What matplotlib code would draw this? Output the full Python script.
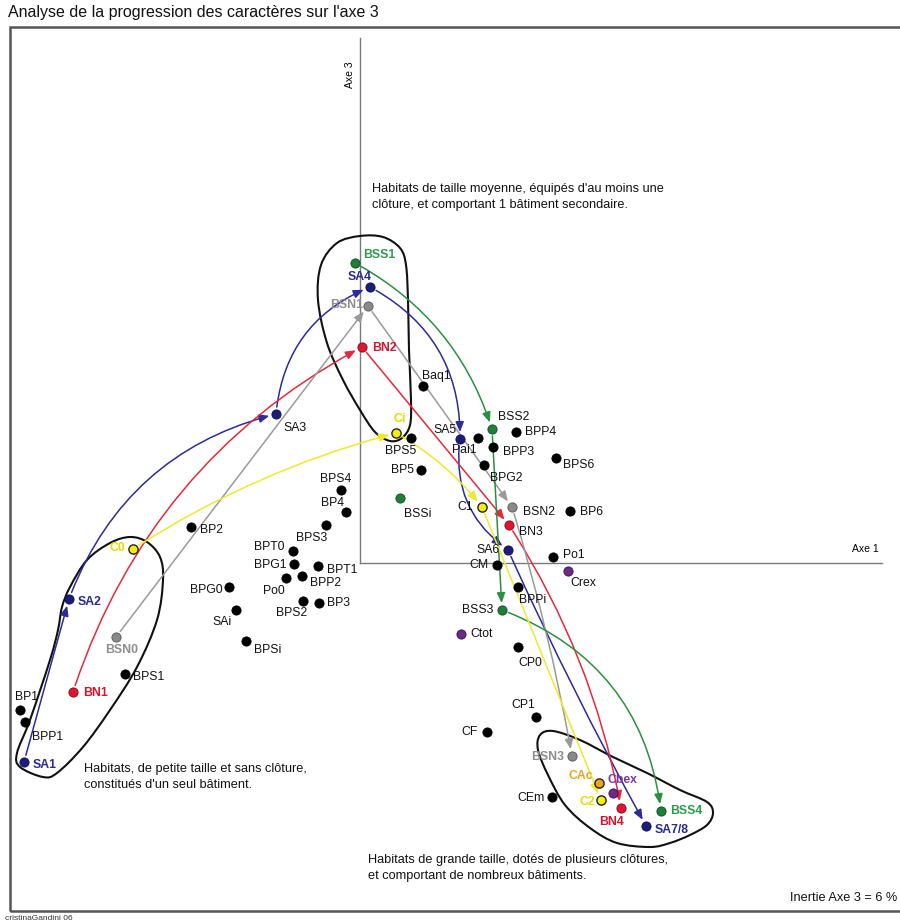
import numpy as np
import matplotlib
matplotlib.use("Agg")
import matplotlib.pyplot as plt
from matplotlib.path import Path
from matplotlib.patches import PathPatch, Rectangle

plt.rcParams['font.family'] = ['Liberation Sans', 'DejaVu Sans']

#
# Data (coordinates on the factor plane, Axe 1 / Axe 3)
#

# plain modalities (black dots)
black_names = ['BP1', 'BPP1', 'BPS1', 'BP2', 'BPS4', 'BP4', 'BPS3', 'BPT0', 'BPG1', 'BPT1',
               'Po0', 'BPP2', 'BPG0', 'BP3', 'BPS2', 'SAi', 'BPSi', 'Baq1', 'BPS5', 'BP5',
               'Pai1', 'BPP4', 'BPP3', 'BPS6', 'BPG2', 'BP6', 'Po1', 'CM', 'BPPi', 'CP0',
               'CP1', 'CF', 'CEm']
black_x = [-3.40, -3.35, -2.35, -1.69, -0.19, -0.14, -0.34, -0.67, -0.66, -0.42,
           -0.74, -0.58, -1.31, -0.41, -0.57, -1.24, -1.14, 0.63, 0.51, 0.61,
           1.18, 1.56, 1.33, 1.96, 1.24, 2.10, 1.93, 1.37, 1.58, 1.58,
           1.76, 1.27, 1.92]
black_y = [-1.47, -1.59, -1.11, 0.36, 0.73, 0.51, 0.38, 0.12, -0.01, -0.03,
           -0.15, -0.13, -0.24, -0.40, -0.38, -0.47, -0.78, 1.77, 1.25, 0.93,
           1.25, 1.31, 1.16, 1.05, 0.98, 0.52, 0.06, -0.02, -0.24, -0.84,
           -1.54, -1.69, -2.34]

# progressions
sa_names = ['SA1', 'SA2', 'SA3', 'SA4', 'SA5', 'SA6', 'SA7/8']
sa_x = [-3.36, -2.91, -0.84, 0.10, 1.00, 1.48, 2.86]
sa_y = [-1.99, -0.36, 1.49, 2.76, 1.24, 0.13, -2.63]
sa_rad = [0.0, -0.26, -0.3, -0.3, 0.3, 0.02]

bn_names = ['BN1', 'BN2', 'BN3', 'BN4']
bn_x = [-2.87, 0.02, 1.49, 2.61]
bn_y = [-1.29, 2.16, 0.38, -2.45]
bn_rad = [-0.2, 0.0, -0.1]

bsn_names = ['BSN0', 'BSN1', 'BSN2', 'BSN3']
bsn_x = [-2.44, 0.08, 1.52, 2.12]
bsn_y = [-0.74, 2.57, 0.56, -1.93]
bsn_rad = [0.0, 0.0, -0.03]

bss_names = ['BSS1', 'BSS2', 'BSS3', 'BSS4']
bss_x = [-0.05, 1.32, 1.42, 3.01]
bss_y = [3.00, 1.34, -0.47, -2.48]
bss_rad = [-0.2, 0.0, -0.3]
bssi_x, bssi_y = 0.40, 0.65

c_names = ['C0', 'Ci', 'C1', 'C2']
c_x = [-2.27, 0.36, 1.22, 2.41]
c_y = [0.14, 1.30, 0.56, -2.37]
c_rad = [-0.08, -0.1, 0.0]

cac_x, cac_y = 2.39, -2.20
purple_names = ['Crex', 'Ctot', 'Cbex']
purple_x = [2.08, 1.01, 2.53]
purple_y = [-0.08, -0.71, -2.30]

# hand drawn groupings (outline points)
blob_small = [(-3.17, -2.14), (-3.40, -2.04), (-3.43, -1.90), (-3.30, -1.57), (-3.10, -0.97),
              (-3.02, -0.67), (-2.98, -0.44), (-2.90, -0.24), (-2.73, 0.03), (-2.50, 0.20),
              (-2.30, 0.26), (-2.13, 0.21), (-2.00, 0.06), (-1.97, -0.17), (-2.03, -0.57),
              (-2.23, -1.04), (-2.50, -1.47), (-2.77, -1.84), (-3.03, -2.10)]
blob_mid = [(-0.23, 3.20), (0.00, 3.27), (0.23, 3.26), (0.40, 3.15), (0.46, 2.98),
            (0.48, 2.63), (0.49, 2.13), (0.51, 1.63), (0.50, 1.38), (0.42, 1.25),
            (0.30, 1.22), (0.15, 1.31), (0.00, 1.53), (-0.17, 1.83), (-0.33, 2.20),
            (-0.42, 2.63), (-0.39, 2.98)]
blob_big = [(1.80, -1.72), (1.93, -1.68), (2.20, -1.77), (2.53, -1.94), (2.87, -2.10),
            (3.20, -2.27), (3.47, -2.39), (3.53, -2.50), (3.47, -2.62), (3.30, -2.72),
            (3.10, -2.80), (2.90, -2.84), (2.57, -2.80), (2.30, -2.65), (2.05, -2.42),
            (1.88, -2.12), (1.78, -1.87)]

#
# Styles
#

BLUE, BLUE_L = '#1c1c7c', '#2a2a8e'
RED, RED_L = '#e3142e', '#d8142c'
GRAY, GRAY_L = '#8a8a8a', '#8e8e8e'
GREEN, GREEN_L = '#1f7f3a', '#2e9a4e'
YELLOW, YELLOW_L = '#f2ee10', '#e2dc00'
ORANGE = '#f2a31c'
PURPLE, PURPLE_L = '#6b2a85', '#7a3a9a'

# label offsets in pixels (dx, dy downwards, alignment)
label_pos = {
    'BP1': (7, -13, 'center'), 'BPP1': (7, 15, 'left'), 'BPS1': (8, 3, 'left'),
    'BP2': (9, 3, 'left'), 'BPS4': (-5, -11, 'center'), 'BP4': (-13, -9, 'center'),
    'BPS3': (-14, 13, 'center'), 'BPT0': (-8, -4, 'right'), 'BPG1': (-7, 1, 'right'),
    'BPT1': (9, 4, 'left'), 'Po0': (-12, 13, 'center'), 'BPP2': (8, 7, 'left'),
    'BPG0': (-6, 3, 'right'), 'BP3': (8, 0, 'left'), 'BPS2': (-11, 12, 'center'),
    'SAi': (-4, 12, 'right'), 'BPSi': (8, 9, 'left'), 'Baq1': (-1, -10, 'left'),
    'BPS5': (-10, 13, 'center'), 'BP5': (-7, 0, 'right'), 'Pai1': (-14, 12, 'center'),
    'BPP4': (9, 0, 'left'), 'BPP3': (10, 5, 'left'), 'BPS6': (7, 7, 'left'),
    'BPG2': (6, 13, 'left'), 'BP6': (10, 1, 'left'), 'Po1': (10, -2, 'left'),
    'CM': (-8, 0, 'right'), 'BPPi': (1, 13, 'left'), 'CP0': (0, 16, 'left'),
    'CP1': (-1, -12, 'right'), 'CF': (-9, 0, 'right'), 'CEm': (-7, 1, 'right'),
    'SA1': (9, 3, 'left'), 'SA2': (9, 3, 'left'), 'SA3': (7, 14, 'left'),
    'SA4': (-10, -10, 'center'), 'SA5': (-3, -9, 'right'), 'SA6': (-8, 0, 'right'),
    'SA7/8': (9, 4, 'left'),
    'BN1': (10, 1, 'left'), 'BN2': (10, 1, 'left'), 'BN3': (10, 7, 'left'),
    'BN4': (-10, 14, 'center'),
    'BSN0': (6, 13, 'center'), 'BSN1': (-5, -1, 'right'), 'BSN2': (11, 5, 'left'),
    'BSN3': (-8, 1, 'right'),
    'BSS1': (8, -8, 'left'), 'BSS2': (6, -12, 'left'), 'BSSi': (4, 16, 'left'),
    'BSS3': (-9, 0, 'right'), 'BSS4': (9, 0, 'left'),
    'C0': (-8, -1, 'right'), 'Ci': (4, -14, 'center'), 'C1': (-9, 0, 'right'),
    'C2': (-6, 2, 'right'), 'CAc': (-6, -7, 'right'),
    'Crex': (2, 12, 'left'), 'Ctot': (9, 0, 'left'), 'Cbex': (-5, -13, 'left'),
}

# labels printed in colour and bold
bold_labels = {'SA1': BLUE_L, 'SA2': BLUE_L, 'SA4': BLUE_L, 'SA7/8': BLUE_L,
               'BN1': RED_L, 'BN2': RED_L, 'BN4': RED_L,
               'BSN0': GRAY_L, 'BSN1': GRAY_L, 'BSN3': GRAY_L,
               'BSS1': GREEN_L, 'BSS4': GREEN_L,
               'C0': YELLOW_L, 'Ci': YELLOW_L, 'C2': YELLOW_L,
               'CAc': ORANGE, 'Cbex': PURPLE_L}

LABEL_FS = 8.8


def _label(ax, name, x, y):
    dx, dy, ha = label_pos[name]
    color = bold_labels.get(name, '#111111')
    weight = 'bold' if name in bold_labels else 'normal'
    ax.annotate(name, (x, y), xytext=(dx, -dy), textcoords='offset pixels',
                ha=ha, va='center', fontsize=LABEL_FS, color=color,
                fontweight=weight, zorder=6)


def _dots(ax, xs, ys, names, color, edge, lw=0.6):
    ax.scatter(xs, ys, s=44, c=color, edgecolors=edge, linewidths=lw, zorder=5)
    for n, x, y in zip(names, xs, ys):
        _label(ax, n, x, y)


def _path_arrows(ax, xs, ys, rads, color):
    for i, r in enumerate(rads):
        ax.annotate('', xy=(xs[i + 1], ys[i + 1]), xytext=(xs[i], ys[i]),
                    arrowprops=dict(arrowstyle='-|>,head_length=0.6,head_width=0.25',
                                    color=color, lw=1.1, shrinkA=5, shrinkB=5,
                                    connectionstyle=f'arc3,rad={r}'),
                    zorder=3)


def _blob(ax, pts):
    # closed catmull-rom spline through the outline points
    p = np.array(pts)
    n = len(p)
    verts = [p[0]]
    codes = [Path.MOVETO]
    for i in range(n):
        p0, p1, p2, p3 = p[i - 1], p[i], p[(i + 1) % n], p[(i + 2) % n]
        verts += [p1 + (p2 - p0) / 6, p2 - (p3 - p1) / 6, p2]
        codes += [Path.CURVE4] * 3
    ax.add_patch(PathPatch(Path(verts, codes), fill=False, ec='#111111', lw=1.5, zorder=2))


#
# Figure
#

fig = plt.figure(figsize=(9, 9.24), dpi=100)
ax = fig.add_axes([0, 0, 1, 1])
ax.set_xlim(-3.60, 5.40)
ax.set_ylim(-3.61, 5.63)
ax.axis('off')

# frame
ax.add_patch(Rectangle((-3.50, -3.48), 9.2, 8.84, fill=False, ec='#555555', lw=1.8, clip_on=False))

# axes of the factor plane
ax.plot([0, 0], [0, 5.25], color='#7a7a7a', lw=1.0, zorder=1)
ax.plot([0, 5.22], [0, 0], color='#7a7a7a', lw=1.0, zorder=1)
ax.text(-0.10, 4.88, 'Axe 3', rotation=90, ha='center', va='center', fontsize=7.5)
ax.text(5.05, 0.14, 'Axe 1', ha='center', va='center', fontsize=7.5)

for b in (blob_small, blob_mid, blob_big):
    _blob(ax, b)

_path_arrows(ax, sa_x, sa_y, sa_rad, '#2b2b9a')
_path_arrows(ax, bn_x, bn_y, bn_rad, '#e8283c')
_path_arrows(ax, bsn_x, bsn_y, bsn_rad, '#9a9a9a')
_path_arrows(ax, bss_x, bss_y, bss_rad, '#2a9040')
_path_arrows(ax, c_x, c_y, c_rad, '#eeea2a')

_dots(ax, black_x, black_y, black_names, '#000000', '#000000')
_dots(ax, sa_x, sa_y, sa_names, BLUE, '#0e0e50')
_dots(ax, bn_x, bn_y, bn_names, RED, '#7a0a16')
_dots(ax, bsn_x, bsn_y, bsn_names, GRAY, '#555555')
_dots(ax, bss_x + [bssi_x], bss_y + [bssi_y], bss_names + ['BSSi'], GREEN, '#0f4a20')
_dots(ax, c_x, c_y, c_names, YELLOW, '#222222', lw=1.0)
_dots(ax, [cac_x], [cac_y], ['CAc'], ORANGE, '#222222', lw=1.0)
_dots(ax, purple_x, purple_y, purple_names, PURPLE, '#3a1050')

# comments on the groupings
ax.text(0.12, 3.80, "Habitats de taille moyenne, équipés d'au moins une\n"
        "clôture, et comportant 1 bâtiment secondaire.",
        ha='left', va='top', fontsize=9.2, linespacing=1.4, color='#111111')
ax.text(-2.76, -2.00, "Habitats, de petite taille et sans clôture,\n"
        "constitués d'un seul bâtiment.",
        ha='left', va='top', fontsize=9.2, linespacing=1.4, color='#111111')
ax.text(0.08, -2.91, "Habitats de grande taille, dotés de plusieurs clôtures,\n"
        "et comportant de nombreux bâtiments.",
        ha='left', va='top', fontsize=9.2, linespacing=1.4, color='#111111')
ax.text(5.37, -3.35, 'Inertie Axe 3 = 6 %', ha='right', va='center', fontsize=9.2, color='#111111')

fig.text(8 / 900, 1 - 13 / 924, "Analyse de la progression des caractères sur l'axe 3",
         ha='left', va='center', fontsize=11.5, color='#111111')
fig.text(5 / 900, 1 - 918 / 924, 'cristinaGandini 06', ha='left', va='center',
         fontsize=6, color='#333333')

fig.savefig('out.png', dpi=100)
